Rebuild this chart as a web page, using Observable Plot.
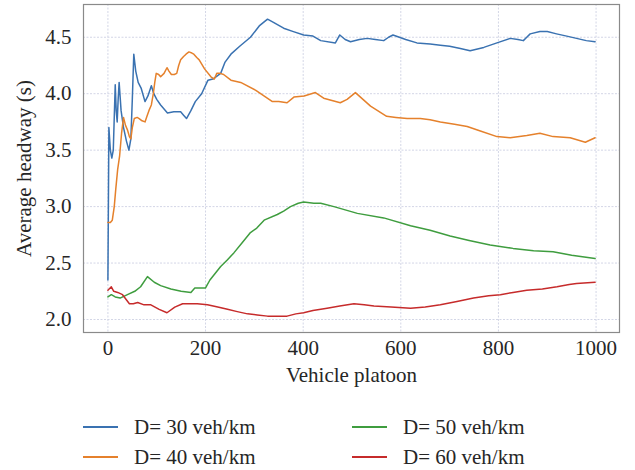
<!DOCTYPE html>
<html>
<head>
<meta charset="utf-8">
<script src="https://cdn.jsdelivr.net/npm/d3@7"></script>
<script src="https://cdn.jsdelivr.net/npm/@observablehq/plot@0.6"></script>
<style>
  html, body { margin: 0; padding: 0; background: #fff; }
  body { width: 635px; height: 470px; overflow: hidden; font-family: "Liberation Serif", "Times New Roman", serif; }
  #chart svg, #chart svg text { font-family: "Liberation Serif", "Times New Roman", serif !important; font-size: 21px !important; }
  #chart svg text { fill: #262626; }
  #legend { position: relative; height: 70px; font-size: 21px; color: #262626; }
  .item { position: absolute; display: flex; align-items: center; height: 26px; }
  .swatch { width: 35px; height: 2.5px; margin-right: 16px; }
</style>
</head>
<body>
<div id="chart"></div>
<div id="legend"></div>
<script>
const seriesNames = ["D= 30 veh/km", "D= 40 veh/km", "D= 50 veh/km", "D= 60 veh/km"];
const seriesColors = ["#3a72b1", "#e5812c", "#3f9d3f", "#c62b2b"];
const xTicks = [0, 200, 400, 600, 800, 1000];
const yTicks = [2.0, 2.5, 3.0, 3.5, 4.0, 4.5];

const d30 = [[0,2.35],[2,3.7],[5,3.5],[8,3.43],[11,3.5],[15,4.08],[17,3.85],[19,3.75],[21,3.95],[23,4.1],[27,3.85],[32,3.7],[38,3.58],[43,3.5],[47,3.6],[50,3.95],[53,4.35],[57,4.2],[62,4.1],[68,4.05],[76,3.93],[82,3.98],[89,4.07],[94,4.0],[100,3.95],[108,3.9],[122,3.83],[135,3.84],[149,3.84],[155,3.81],[161,3.78],[170,3.85],[179,3.93],[192,4.0],[205,4.12],[215,4.13],[231,4.18],[240,4.28],[252,4.35],[270,4.42],[292,4.5],[310,4.6],[327,4.66],[340,4.63],[360,4.58],[380,4.55],[401,4.52],[420,4.51],[436,4.47],[466,4.45],[475,4.52],[486,4.48],[497,4.46],[515,4.48],[531,4.49],[548,4.48],[565,4.47],[575,4.5],[584,4.52],[610,4.48],[633,4.45],[660,4.44],[681,4.43],[700,4.42],[722,4.40],[742,4.38],[770,4.41],[797,4.45],[824,4.49],[840,4.48],[851,4.47],[858,4.5],[865,4.53],[885,4.55],[900,4.55],[919,4.53],[940,4.51],[960,4.49],[980,4.47],[998,4.46]];

const d40 = [[0,2.86],[5,2.86],[9,2.88],[13,3.0],[16,3.15],[20,3.33],[24,3.45],[28,3.65],[32,3.79],[36,3.72],[40,3.68],[44,3.62],[47,3.6],[50,3.7],[54,3.78],[60,3.79],[64,3.78],[70,3.76],[76,3.75],[80,3.8],[84,3.85],[89,3.9],[93,4.0],[96,4.1],[99,4.18],[104,4.17],[108,4.15],[115,4.18],[121,4.23],[125,4.2],[130,4.17],[136,4.17],[141,4.18],[145,4.25],[149,4.3],[155,4.33],[160,4.35],[166,4.37],[172,4.36],[176,4.35],[182,4.32],[187,4.3],[198,4.22],[211,4.15],[218,4.13],[223,4.18],[230,4.18],[237,4.17],[252,4.12],[272,4.1],[303,4.03],[337,3.93],[350,3.93],[367,3.92],[381,3.97],[402,3.98],[425,4.01],[442,3.96],[476,3.92],[490,3.95],[507,4.01],[538,3.89],[571,3.80],[590,3.79],[613,3.78],[640,3.78],[660,3.77],[681,3.75],[710,3.73],[736,3.71],[763,3.67],[797,3.62],[824,3.61],[858,3.63],[885,3.65],[912,3.62],[947,3.61],[978,3.57],[998,3.61]];

const d50 = [[0,2.20],[7,2.22],[15,2.20],[25,2.19],[40,2.22],[55,2.25],[67,2.29],[81,2.38],[95,2.33],[108,2.30],[129,2.27],[150,2.25],[170,2.24],[178,2.28],[200,2.28],[209,2.35],[220,2.41],[231,2.47],[245,2.53],[258,2.59],[275,2.68],[292,2.77],[305,2.81],[320,2.88],[347,2.93],[360,2.96],[374,3.0],[390,3.03],[401,3.04],[422,3.03],[436,3.03],[463,3.00],[511,2.94],[565,2.90],[620,2.83],[660,2.79],[701,2.74],[740,2.70],[783,2.66],[830,2.63],[872,2.61],[912,2.60],[950,2.57],[998,2.54]];

const d60 = [[0,2.26],[7,2.29],[12,2.25],[20,2.24],[30,2.22],[37,2.18],[44,2.14],[52,2.14],[61,2.15],[74,2.13],[88,2.13],[105,2.09],[121,2.06],[137,2.11],[153,2.14],[168,2.14],[183,2.14],[204,2.13],[225,2.11],[245,2.09],[265,2.07],[286,2.05],[306,2.04],[327,2.03],[345,2.03],[367,2.03],[385,2.05],[401,2.06],[420,2.08],[449,2.10],[475,2.12],[504,2.14],[525,2.13],[545,2.12],[580,2.11],[620,2.10],[650,2.11],[681,2.13],[715,2.16],[749,2.19],[780,2.21],[804,2.22],[830,2.24],[858,2.26],[890,2.27],[920,2.29],[945,2.31],[960,2.32],[998,2.33]];

const allSeries = [d30, d40, d50, d60];
const rows = allSeries.flatMap((s, i) => s.map(([x, y]) => ({x, y, series: seriesNames[i]})));

const chart = Plot.plot({
  width: 635,
  height: 400,
  marginLeft: 83,
  marginRight: 16,
  marginTop: 4,
  marginBottom: 68,
  x: {domain: [-50, 1048], ticks: xTicks, tickFormat: d3.format("d"), tickSize: 0, tickPadding: 8, label: "Vehicle platoon", labelAnchor: "center", labelArrow: "none", labelOffset: 49},
  y: {domain: [1.885, 4.79], ticks: yTicks, tickFormat: d3.format(".1f"), tickSize: 0, tickPadding: 12, label: "Average headway (s)", labelAnchor: "center", labelArrow: "none", labelOffset: 67},
  color: {domain: seriesNames, range: seriesColors},
  marks: [
    Plot.gridX(xTicks, {stroke: "#d3d6e6", strokeOpacity: 1, strokeDasharray: "2,1.5"}),
    Plot.gridY(yTicks, {stroke: "#d3d6e6", strokeOpacity: 1, strokeDasharray: "2,1.5"}),
    Plot.frame({stroke: "#8a8a8a", strokeWidth: 1.2}),
    Plot.line(rows, {x: "x", y: "y", z: "series", stroke: "series", strokeWidth: 1.5})
  ]
});
document.getElementById("chart").appendChild(chart);

const legend = document.getElementById("legend");
const positions = [[83, 14], [83, 44], [352, 14], [352, 44]];
seriesNames.forEach((name, i) => {
  const item = document.createElement("div");
  item.className = "item";
  item.style.left = positions[i][0] + "px";
  item.style.top = positions[i][1] + "px";
  const sw = document.createElement("span");
  sw.className = "swatch";
  sw.style.background = seriesColors[i];
  const label = document.createElement("span");
  label.textContent = name;
  item.appendChild(sw);
  item.appendChild(label);
  legend.appendChild(item);
});
</script>
</body>
</html>
